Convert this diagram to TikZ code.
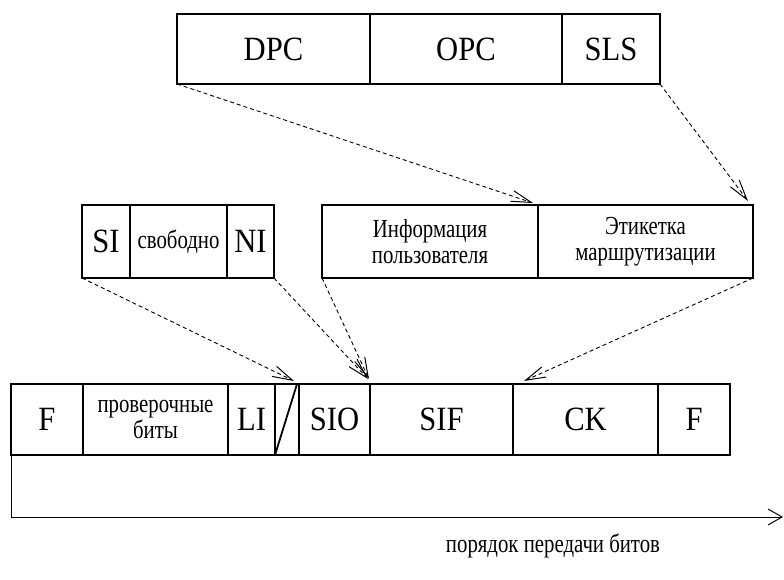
\documentclass[tikz,border=0pt]{standalone}
\usepackage{fontspec}
\setmainfont{Liberation Serif}
\newfontfamily\labelfont[FakeStretch=0.9]{Liberation Serif}
\newfontfamily\notefont[FakeStretch=0.8]{Liberation Serif}
\usetikzlibrary{arrows.meta}
\begin{document}
\begin{tikzpicture}[x=1pt,y=-1pt,
  cell/.style={draw, line width=1.8pt, rectangle, inner sep=0pt, outer sep=0pt,
    align=center, font=\labelfont\fontsize{34}{36}\selectfont},
  smallcell/.style={cell, font=\notefont\fontsize{26}{25.5}\selectfont},
  link/.style={draw, line width=0.9pt, dash pattern=on 4pt off 3pt,
    -{Straight Barb[length=20pt,width=11pt,line width=1pt]}},
  axis/.style={draw, line width=0.9pt, -{Straight Barb[length=14pt,width=16pt,line width=1pt]}}]
\useasboundingbox (0,0) rectangle (784,580);

% routing label fields
\node[cell, minimum width=193pt, minimum height=70pt] (dpc) at (273.5,49) {DPC};
\node[cell, minimum width=192pt, minimum height=70pt] (opc) at (466,49) {OPC};
\node[cell, minimum width=98pt,  minimum height=70pt] (sls) at (611,49) {SLS};

% service information octet
\node[cell, minimum width=48pt, minimum height=73pt] (si) at (106,241.5) {SI};
\node[smallcell, minimum width=97pt, minimum height=73pt] (free) at (178.5,241.5) {свободно};
\node[cell, minimum width=47pt, minimum height=73pt] (ni) at (250.5,241.5) {NI};

% signalling information field
\node[smallcell, minimum width=216pt, minimum height=73pt] (info) at (430,241.5) {Информация\\пользователя};
\node[smallcell, minimum width=215pt, minimum height=73pt] (label) at (645.5,241.5) {Этикетка\\маршрутизации};

% signal unit
\node[cell, minimum width=72pt,  minimum height=71pt] (f1) at (47,419.5) {F};
\node[smallcell, minimum width=145pt, minimum height=71pt] (bits) at (155.5,419.5) {проверочные\\биты};
\node[cell, minimum width=47pt,  minimum height=71pt] (li) at (251.5,419.5) {LI};
\node[cell, minimum width=24pt,  minimum height=71pt] (spare) at (287,419.5) {};
\node[cell, minimum width=71pt,  minimum height=71pt] (sio) at (334.5,419.5) {SIO};
\node[cell, minimum width=143pt, minimum height=71pt] (sif) at (441.5,419.5) {SIF};
\node[cell, minimum width=145pt, minimum height=71pt] (ck) at (585.5,419.5) {CK};
\node[cell, minimum width=72pt,  minimum height=71pt] (f2) at (694,419.5) {F};
\draw[line width=1.8pt] (spare.south west) -- ([xshift=-2pt]spare.north east);

% expansion links
\path[link] (dpc.south west) -- ([xshift=-5pt,yshift=2pt]info.north east);
\path[link] (sls.south east) -- ([xshift=-5pt,yshift=4pt]label.north east);
\path[link] (si.south west) -- ([xshift=-5pt,yshift=3pt]spare.north east);
\path[link] (ni.south east) -- ([xshift=-2pt,yshift=5pt]sio.north east);
\path[link] (info.south west) -- ([xshift=-1pt,yshift=5pt]sio.north east);
\path[link] (label.south east) -- ([xshift=11pt,yshift=3pt]ck.north west);

% bit transmission order
\coordinate (axisend) at (783,517);
\path[axis] (f1.south west) |- (axisend);
\node[font=\notefont\fontsize{26}{25.5}\selectfont] (order) at (553,546) {порядок передачи битов};
\end{tikzpicture}
\end{document}
